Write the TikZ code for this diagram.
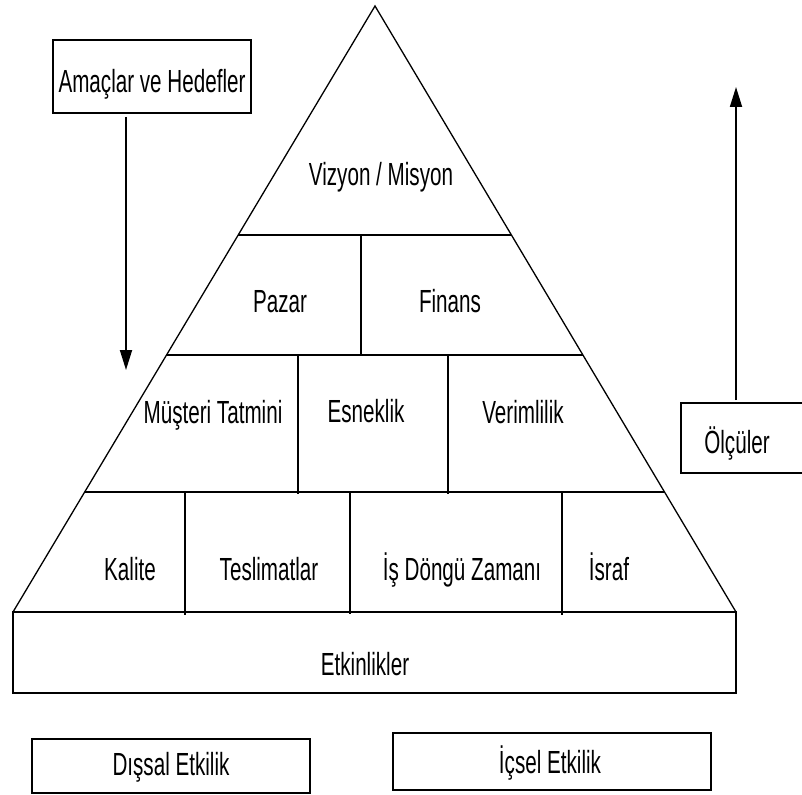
\documentclass[tikz,border=0pt]{standalone}
\usepackage{fontspec}
\setmainfont{Liberation Sans}[FakeStretch=0.645]
\usetikzlibrary{arrows.meta,calc}
\begin{document}
\begin{tikzpicture}[x=1pt,y=-1pt,
  lbl/.style={anchor=base,inner sep=0pt,font=\fontsize{32}{38}\selectfont},
  boxnode/.style={draw,line width=1.8pt,rectangle,inner sep=0pt},
  edge/.style={line width=1.3pt},
  rowline/.style={line width=1.8pt},
  divline/.style={line width=1.6pt},
  arr/.style={line width=1.8pt,-{Triangle[length=20pt,width=12pt]}}]
\useasboundingbox (0,0) rectangle (802,794);
\clip (0,0) rectangle (802,794);
% pyramid
\coordinate (apex) at (375,6);
\coordinate (bl) at (13,612);
\coordinate (br) at (736,612);
\draw[edge] (bl) -- (apex) -- (br);
\draw[rowline] ($(apex)!0.3779!(bl)$) -- ($(apex)!0.3779!(br)$);
\draw[rowline] ($(apex)!0.5759!(bl)$) -- ($(apex)!0.5759!(br)$);
\draw[rowline] ($(apex)!0.802!(bl)$) -- ($(apex)!0.802!(br)$);
\draw[divline] (361,235) -- (361,355);
\draw[divline] (298,355) -- (298,494);
\draw[divline] (448,355) -- (448,494);
\draw[divline] (185,492) -- (185,615);
\draw[divline] (350,492) -- (350,614);
\draw[divline] (562,492) -- (562,615);
% base box
\node[boxnode,minimum width=723pt,minimum height=81pt] (etkbox) at (374.5,652.5) {};
% texts in pyramid
\node[lbl] (vizyon) at (381,186) {Vizyon / Misyon};
\node[lbl] (pazar) at (280,312) {Pazar};
\node[lbl] (finans) at (450,312) {Finans};
\node[lbl] (musteri) at (213,423) {Müşteri Tatmini};
\node[lbl] (esneklik) at (366,422) {Esneklik};
\node[lbl] (verim) at (523,423) {Verimlilik};
\node[lbl] (kalite) at (130,580) {Kalite};
\node[lbl] (teslim) at (269,580) {Teslimatlar};
\node[lbl] (dongu) at (462,580) {İş Döngü Zamanı};
\node[lbl] (israf) at (609,580) {İsraf};
\node[lbl] (etk) at (365,675) {Etkinlikler};
% side boxes
\node[boxnode,minimum width=198pt,minimum height=73pt] (amacbox) at (152,76.5) {};
\node[lbl] (amac) at (152,93) {Amaçlar ve Hedefler};
\node[boxnode,minimum width=140pt,minimum height=70pt] (olcbox) at (751,438) {};
\node[lbl] (olc) at (737,453) {Ölçüler};
\node[boxnode,minimum width=278pt,minimum height=54pt] (disbox) at (171,766) {};
\node[lbl] (dis) at (171,775) {Dışsal Etkilik};
\node[boxnode,minimum width=318pt,minimum height=57pt] (icbox) at (552,761.5) {};
\node[lbl] (ic) at (550,773) {İçsel Etkilik};
% arrows
\coordinate (downS) at (126,117);
\coordinate (downE) at (126,370);
\draw[arr] (downS) -- (downE);
\coordinate (upS) at (736,400);
\coordinate (upE) at (736,87);
\draw[arr] (upS) -- (upE);
\end{tikzpicture}
\end{document}
